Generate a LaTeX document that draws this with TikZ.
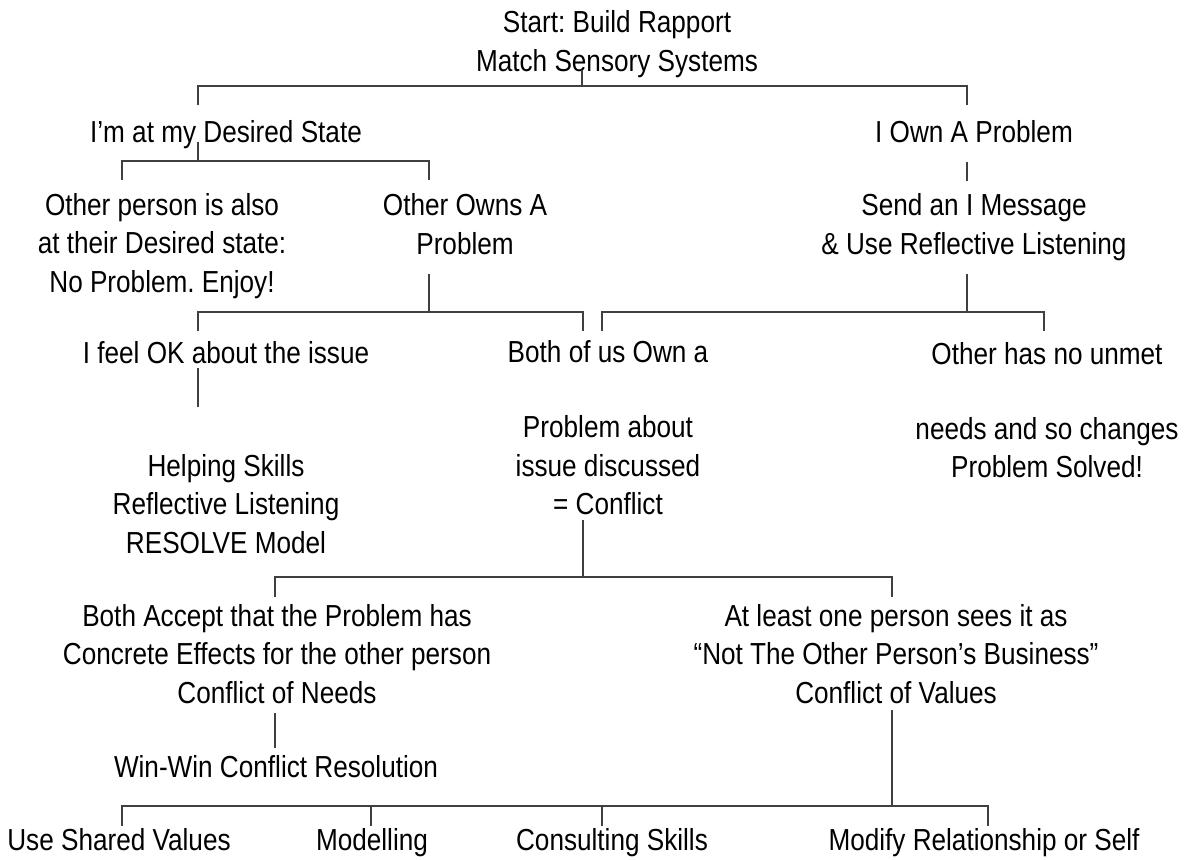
\documentclass[tikz,border=0pt]{standalone}
\usepackage{fontspec}
\setmainfont{Liberation Sans}[FakeStretch=0.86]
\frenchspacing

\begin{document}
\begin{tikzpicture}[x=0.5pt,y=-0.5pt,
    txt/.style={align=center,inner sep=0pt,font=\fontsize{15.2}{19.25}\selectfont},
    tree/.style={draw=black!75,line width=0.65pt}]

    \useasboundingbox (0,0) rectangle (1187,859);

    % Textes
    \node[txt] (start)    at (617,44)  {Start: Build Rapport\\Match Sensory Systems};
    \node[txt] (desired)  at (226,135) {I’m at my Desired State};
    \node[txt] (iown)     at (974,132) {I Own A Problem};
    \node[txt] (noprob)   at (162,246) {Other person is also\\at their Desired state:\\No Problem. Enjoy!};
    \node[txt] (otherown) at (465,224) {Other Owns A\\Problem};
    \node[txt] (imsg)     at (974,227) {Send an I Message\\\& Use Reflective Listening};
    \node[txt] (feelok)   at (226,353) {I feel OK about the issue};
    \node[txt] (bothown)  at (608,428) {Both of us Own a\\[18.25pt]Problem about\\issue discussed\\= Conflict};
    \node[txt] (nounmet)  at (1047,410) {Other has no unmet\\[18.25pt]needs and so changes\\Problem Solved!};
    \node[txt] (helping)  at (226,504) {Helping Skills\\Reflective Listening\\RESOLVE Model};
    \node[txt] (needs)    at (277,654) {Both Accept that the Problem has\\Concrete Effects for the other person\\Conflict of Needs};
    \node[txt] (values)   at (896,654) {At least one person sees it as\\“Not The Other Person’s Business”\\Conflict of Values};
    \node[txt] (winwin)   at (276,767) {Win-Win Conflict Resolution};
    \node[txt] (shared)   at (119,840) {Use Shared Values};
    \node[txt] (model)    at (372,843) {Modelling};
    \node[txt] (consult)  at (612,843) {Consulting Skills};
    \node[txt] (modify)   at (984,843) {Modify Relationship or Self};

    % Points des liaisons
    \coordinate (j1top) at (582,70);  \coordinate (j1) at (582,86);
    \coordinate (d1a) at (198,105);   \coordinate (d1b) at (967,105);
    \coordinate (j2top) at (198,142); \coordinate (j2) at (198,161);
    \coordinate (d2a) at (122,180);   \coordinate (d2b) at (429,180);
    \coordinate (l3a) at (967,162);   \coordinate (l3b) at (967,181);
    \coordinate (j4top) at (429,274); \coordinate (j4) at (429,312);
    \coordinate (d4a) at (198,331);   \coordinate (d4b) at (583,331);
    \coordinate (j5top) at (967,274); \coordinate (j5) at (967,312);
    \coordinate (d5a) at (602,331);   \coordinate (d5b) at (1044,331);
    \coordinate (l6a) at (198,368);   \coordinate (l6b) at (198,407);
    \coordinate (j7top) at (583,520); \coordinate (j7) at (583,577);
    \coordinate (d7a) at (275,597);   \coordinate (d7b) at (892,597);
    \coordinate (l8a) at (275,713);   \coordinate (l8b) at (275,748);
    \coordinate (j9top) at (892,710); \coordinate (j9) at (892,806);
    \coordinate (d9a) at (122,826);   \coordinate (d9b) at (371,826);
    \coordinate (d9c) at (602,826);   \coordinate (d9d) at (988,826);

    % Crochets
    \foreach \j/\a/\b in {j1/d1a/d1b, j2/d2a/d2b, j4/d4a/d4b, j5/d5a/d5b, j7/d7a/d7b, j9/d9a/d9d}{
      \draw[tree] (\j top) -- (\j);
      \draw[tree] (\a) -- (\a |- \j) -- (\b |- \j) -- (\b);
    }
    \foreach \d in {d9b,d9c}{
      \draw[tree] (\d) -- (\d |- j9);
    }

    % Traits simples
    \draw[tree] (l3a) -- (l3b);
    \draw[tree] (l6a) -- (l6b);
    \draw[tree] (l8a) -- (l8b);

\end{tikzpicture}
\end{document}
